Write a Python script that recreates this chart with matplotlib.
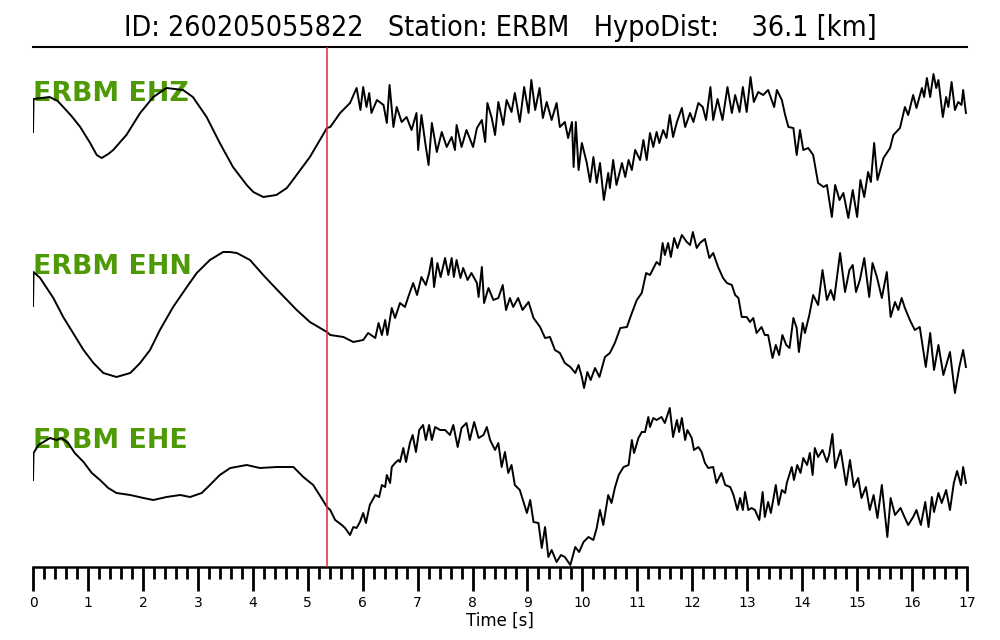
import matplotlib
matplotlib.use("Agg")
import matplotlib.pyplot as plt
from matplotlib.ticker import MultipleLocator

station = "ERBM"
event_id = "260205055822"
hypo_dist_km = 36.1
channels = ["EHZ", "EHN", "EHE"]
pick_time = 5.35

t_ehz = [0.00, 0.01, 0.15, 0.30, 0.45, 0.55, 0.70, 0.86, 1.04, 1.16, 1.25, 1.37, 1.46, 1.70, 1.95, 2.19, 2.43, 2.73, 2.91, 3.16, 3.40, 3.64, 3.89, 4.01, 4.19, 4.43, 4.62, 4.73, 5.04, 5.35,
         5.41, 5.59, 5.77, 5.89, 5.96, 6.01, 6.07, 6.12, 6.16, 6.26, 6.38, 6.44, 6.49, 6.56, 6.62, 6.71, 6.80, 6.89, 6.98, 7.01, 7.07, 7.14, 7.20, 7.26, 7.35, 7.44, 7.53, 7.62, 7.68, 7.71, 7.80, 7.89, 8.01, 8.08, 8.17, 8.23, 8.27, 8.35, 8.41, 8.47, 8.56, 8.62, 8.71, 8.77, 8.86, 8.94, 9.02, 9.07, 9.14, 9.22, 9.28, 9.35, 9.44, 9.53, 9.59, 9.68, 9.74, 9.81, 9.84, 9.88, 9.93, 9.99, 10.08, 10.14, 10.20, 10.26, 10.32, 10.39, 10.47, 10.50, 10.56, 10.62, 10.72, 10.78, 10.84, 10.90, 10.96, 11.05, 11.11, 11.17,
         11.23, 11.29, 11.35, 11.40, 11.47, 11.53, 11.59, 11.65, 11.72, 11.81, 11.87, 11.96, 12.02, 12.11, 12.19, 12.25, 12.33, 12.38, 12.46, 12.55, 12.64, 12.72, 12.78, 12.86, 12.92, 12.99, 13.06, 13.12, 13.20, 13.29, 13.38, 13.49, 13.54, 13.63, 13.69, 13.75, 13.84, 13.90, 13.96, 14.02, 14.11, 14.20, 14.29, 14.39, 14.45, 14.54, 14.60, 14.68, 14.75, 14.84, 14.92, 15.00, 15.06, 15.13, 15.20, 15.25, 15.31, 15.37, 15.48, 15.60, 15.66, 15.78, 15.87, 15.93, 16.02, 16.08, 16.18, 16.22, 16.27, 16.33, 16.39, 16.44, 16.48, 16.56, 16.62, 16.66, 16.72, 16.78, 16.84, 16.90, 16.93, 16.98]
a_ehz = [18, 51, 52, 53, 49, 43, 34, 23, 7, -5, -8, -4, 0, 15, 37, 53, 62, 60, 53, 33, 7, -17, -35, -42, -47, -45, -38, -30, -7, 22,
         23, 37, 47, 62, 40, 63, 43, 57, 37, 50, 45, 27, 65, 23, 43, 28, 33, 20, 37, 0, 35, 7, -15, 27, -2, 18, 3, 13, 0, 25, 3, 20, 3, 22, 30, 8, 47, 32, 15, 48, 25, 50, 38, 57, 28, 63, 37, 70, 40, 62, 32, 48, 30, 47, 23, 28, 12, 28, -17, 28, -20, 7, -13, -32, -7, -33, -13, -50, -23, -38, -10, -35, -13, -27, -10, -20, 0, -10, 10, -10,
         17, 3, 18, 7, 20, 12, 35, 13, 28, 42, 23, 37, 28, 47, 43, 30, 63, 30, 51, 30, 63, 37, 55, 38, 63, 38, 73, 48, 58, 55, 60, 43, 60, 50, 35, 23, 22, -5, 20, 0, 2, -5, -33, -37, -35, -67, -35, -50, -43, -68, -40, -67, -30, -47, -22, -32, 7, -30, -8, 2, 15, 22, 43, 35, 55, 42, 62, 53, 72, 53, 76, 62, 70, 33, 53, 43, 68, 40, 48, 45, 60, 37]

t_ehn = [0.00, 0.01, 0.13, 0.37, 0.55, 0.73, 0.92, 1.10, 1.28, 1.52, 1.77, 1.95, 2.13, 2.31, 2.55, 2.80, 2.98, 3.22, 3.46, 3.58, 3.71, 3.95, 4.19, 4.50, 4.80, 5.04, 5.35,
         5.41, 5.65, 5.83, 6.01, 6.10, 6.23, 6.29, 6.35, 6.41, 6.45, 6.53, 6.59, 6.68, 6.77, 6.83, 6.92, 6.99, 7.07, 7.15, 7.21, 7.26, 7.30, 7.36, 7.42, 7.50, 7.56, 7.62, 7.66, 7.71, 7.78, 7.83, 7.91, 7.98, 8.08, 8.11, 8.17, 8.21, 8.29, 8.38, 8.47, 8.55, 8.61, 8.68, 8.74, 8.83, 8.91, 9.02, 9.11, 9.23, 9.32, 9.41, 9.50, 9.59, 9.68, 9.78, 9.87, 9.93, 9.99, 10.03, 10.09, 10.15, 10.23, 10.31, 10.41, 10.50, 10.59, 10.69, 10.81, 10.90, 10.99, 11.08, 11.16,
         11.23, 11.35, 11.41, 11.46, 11.50, 11.56, 11.61, 11.67, 11.73, 11.81, 11.90, 11.96, 12.01, 12.08, 12.14, 12.23, 12.31, 12.38, 12.47, 12.56, 12.63, 12.72, 12.78, 12.84, 12.90, 12.99, 13.05, 13.11, 13.17, 13.26, 13.32, 13.38, 13.46, 13.52, 13.58, 13.64, 13.71, 13.77, 13.84, 13.90, 13.94, 14.01, 14.05, 14.13, 14.20, 14.29, 14.37, 14.45, 14.52, 14.58, 14.69, 14.78, 14.86, 14.92, 14.98, 15.05, 15.13, 15.22, 15.28, 15.36, 15.45, 15.54, 15.61, 15.69, 15.75, 15.81, 15.87, 15.96, 16.05, 16.14, 16.25, 16.33, 16.40, 16.48, 16.57, 16.69, 16.78, 16.86, 16.93, 16.98]
a_ehn = [4, 38, 32, 12, -7, -23, -40, -53, -63, -67, -63, -53, -40, -20, 3, 23, 37, 50, 58, 58, 57, 50, 35, 17, 0, -12, -22,
         -25, -27, -32, -30, -23, -28, -13, -25, -10, -25, 2, -8, 7, 3, 13, 27, 15, 33, 25, 37, 52, 23, 47, 33, 52, 35, 52, 33, 50, 32, 42, 30, 37, 27, 13, 43, 7, 22, 10, 12, 25, 0, 12, 3, 12, 0, 8, -8, -17, -28, -27, -40, -43, -53, -57, -63, -55, -67, -78, -62, -70, -58, -67, -47, -43, -33, -18, -17, -3, 10, 17, 37,
         35, 48, 45, 67, 55, 67, 53, 72, 62, 75, 68, 65, 78, 62, 67, 71, 52, 57, 43, 32, 27, 25, 15, 12, -7, -7, -12, -8, -23, -17, -25, -25, -48, -35, -45, -25, -35, -38, -8, -18, -42, -13, -23, -5, 15, 5, 40, 10, 20, 10, 57, 18, 40, 45, 18, 30, 52, 13, 47, 33, 12, 38, -7, 8, 0, 12, 2, -10, -20, -17, -57, -23, -60, -35, -65, -42, -83, -57, -40, -57]

t_ehe = [0.00, 0.01, 0.10, 0.19, 0.31, 0.43, 0.52, 0.64, 0.76, 0.92, 1.07, 1.22, 1.37, 1.52, 1.77, 2.01, 2.19, 2.43, 2.68, 2.86, 3.07, 3.22, 3.40, 3.59, 3.89, 4.13, 4.44, 4.74, 4.92, 5.10, 5.25, 5.35,
         5.41, 5.50, 5.62, 5.68, 5.77, 5.83, 5.89, 5.95, 6.01, 6.06, 6.13, 6.23, 6.30, 6.35, 6.41, 6.44, 6.50, 6.53, 6.59, 6.65, 6.68, 6.74, 6.79, 6.86, 6.91, 6.97, 7.03, 7.10, 7.15, 7.21, 7.26, 7.32, 7.41, 7.50, 7.59, 7.65, 7.73, 7.80, 7.89, 7.95, 8.03, 8.11, 8.20, 8.26, 8.32, 8.41, 8.47, 8.53, 8.59, 8.65, 8.71, 8.77, 8.86, 8.99, 9.05, 9.11, 9.20, 9.26, 9.32, 9.38, 9.44, 9.53, 9.61, 9.68, 9.78, 9.87, 9.94, 10.02, 10.11, 10.20, 10.26, 10.32, 10.38, 10.47, 10.53, 10.59, 10.66, 10.75, 10.84, 10.90, 10.94, 11.02, 11.08, 11.14, 11.20,
         11.23, 11.29, 11.35, 11.44, 11.50, 11.59, 11.65, 11.72, 11.76, 11.81, 11.87, 11.91, 11.99, 12.03, 12.11, 12.17, 12.23, 12.29, 12.38, 12.44, 12.53, 12.60, 12.69, 12.75, 12.82, 12.87, 12.92, 12.96, 13.02, 13.08, 13.14, 13.22, 13.28, 13.32, 13.38, 13.43, 13.52, 13.57, 13.63, 13.69, 13.72, 13.81, 13.85, 13.91, 13.97, 14.02, 14.09, 14.14, 14.19, 14.23, 14.29, 14.37, 14.45, 14.49, 14.55, 14.60, 14.70, 14.80, 14.87, 14.94, 15.02, 15.08, 15.16, 15.23, 15.30, 15.37, 15.45, 15.55, 15.61, 15.69, 15.79, 15.87, 15.93, 16.02, 16.08, 16.16, 16.24, 16.30, 16.36, 16.40, 16.48, 16.54, 16.62, 16.69, 16.76, 16.82, 16.89, 16.93, 16.98]
a_ehe = [0, 27, 35, 38, 42, 40, 42, 37, 27, 18, 7, 0, -8, -13, -15, -18, -20, -17, -15, -17, -13, -5, 5, 12, 15, 12, 13, 13, 3, -5, -18, -27,
         -30, -40, -45, -48, -55, -47, -48, -42, -33, -43, -25, -15, -17, -5, -7, 5, -3, 13, 17, 20, 18, 32, 18, 37, 45, 28, 50, 55, 40, 55, 40, 53, 50, 50, 45, 55, 33, 52, 57, 40, 58, 42, 45, 53, 40, 30, 37, 13, 28, 7, 15, -5, -10, -33, -20, -42, -43, -68, -47, -77, -70, -82, -75, -77, -85, -67, -72, -62, -57, -60, -48, -30, -45, -15, -23, -8, 5, 13, 15, 40, 27, 42, 48, 48, 63,
         53, 62, 60, 63, 57, 72, 43, 60, 48, 62, 40, 50, 42, 30, 33, 28, 17, 12, 13, -3, 7, -5, -7, -15, -30, -18, -30, -12, -30, -28, -30, -40, -12, -37, -22, -33, -5, -25, -10, -13, -3, 13, 0, 15, 7, 22, 15, 27, 5, 32, 23, 30, 18, 25, 46, 12, 30, -5, 20, -7, 2, -18, -7, -30, -15, -38, -5, -57, -18, -35, -28, -38, -45, -37, -30, -45, -22, -47, -17, -32, -13, -23, -10, -30, -3, 9, -5, 13, -3]

traces = [(t_ehz, a_ehz), (t_ehn, a_ehn), (t_ehe, a_ehe)]
offsets = [-150, -310, -480]
label_y = [-101, -274, -448]

fig = plt.figure(figsize=(10, 6.4), dpi=100)
ax = fig.add_axes([0.033, 1 - 567 / 640, 0.934, 520 / 640])

for (t, a), off in zip(traces, offsets):
    ax.plot(t, [off + v for v in a], color="black", lw=1.4, zorder=2)

for ch, ly in zip(channels, label_y):
    ax.text(0.0, ly, f"{station} {ch}", color="#4e9a06", fontweight="bold",
            fontsize=19.3, ha="left", va="baseline", zorder=1)

ax.axvline(pick_time, color="#e0282c", lw=1.1, zorder=3)

ax.set_xlim(0, 17)
ax.set_ylim(-567, -47)
ax.xaxis.set_major_locator(MultipleLocator(1))
ax.xaxis.set_minor_locator(MultipleLocator(0.2))
ax.tick_params(axis="x", which="major", length=17, width=2.0, direction="out", labelsize=10, pad=4)
ax.tick_params(axis="x", which="minor", length=8.5, width=2.0, direction="out")
ax.set_yticks([])
ax.spines["left"].set_visible(False)
ax.spines["right"].set_visible(False)
ax.spines["bottom"].set_linewidth(1.8)
ax.spines["top"].set_linewidth(1.5)
ax.set_xlabel("Time [s]", fontsize=12, labelpad=1)

fig.text(0.5, 1 - 36 / 640,
         f"ID: {event_id}   Station: {station}   HypoDist:    {hypo_dist_km} [km]",
         ha="center", va="baseline", fontsize=20.5, fontstretch="condensed")

fig.savefig("out.png", dpi=100)
